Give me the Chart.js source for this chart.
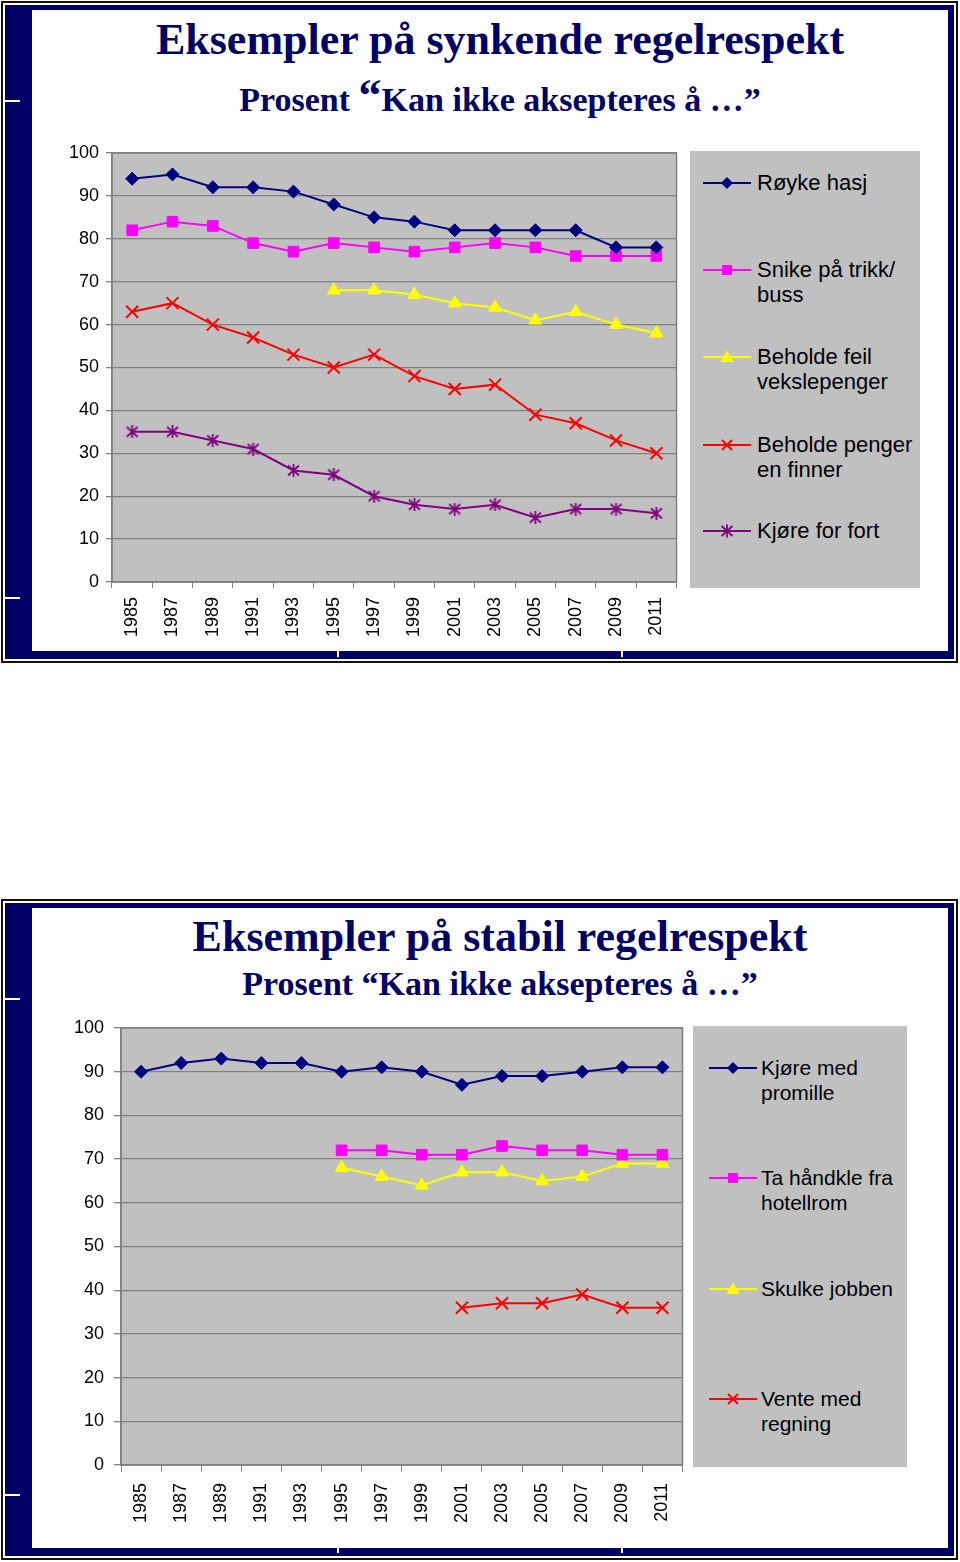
<!DOCTYPE html>
<html>
<head>
<meta charset="utf-8">
<script src="https://cdn.jsdelivr.net/npm/chart.js@4"></script>
<style>
  body { margin: 0; width: 960px; height: 1562px; background: #fff; position: relative; overflow: hidden; font-family: "Liberation Sans", Arial, sans-serif; }
  .frame { position: absolute; left: 1px; width: 957px; box-sizing: border-box; border: 2px solid #111; padding: 2px; background: #fff; }
  .navy { box-sizing: border-box; width: 100%; height: 100%; border-style: solid; border-color: #000066; border-width: 5px 6px 8px 27px; background: #fff; }
  .dash { position: absolute; left: 5px; width: 15px; height: 2px; background: #fff; }
  .notch { position: absolute; width: 2px; height: 6px; background: #fff; }
  .title { position: absolute; left: 100px; width: 800px; text-align: center; color: #000066; font-family: "Liberation Serif", "Times New Roman", serif; font-weight: bold; white-space: nowrap; }
  .t1 { font-size: 44px; line-height: 44px; }
  .t2 { font-size: 34px; line-height: 34px; }
  .chart { position: absolute; }
  .legend { position: absolute; background: #C0C0C0; }
  .entry { position: absolute; }
  .entry svg { position: absolute; left: 0; }
  .entry span { position: absolute; line-height: 25px; color: #000; white-space: nowrap; }
</style>
</head>
<body>

<div class="frame" style="top:1px;height:662px;"><div class="navy"></div></div>
<div class="dash" style="top:100px"></div>
<div class="dash" style="top:597px"></div>
<div class="notch" style="left:337px;top:651px"></div>
<div class="notch" style="left:621px;top:651px"></div>

<div class="title t1" style="top:18px">Eksempler på synkende regelrespekt</div>
<div class="title t2" style="top:79px">Prosent <span style="font-size:46px;line-height:34px">“</span>Kan ikke aksepteres å …”</div>

<canvas id="chart1" class="chart" width="647" height="515" style="left:40px;top:140px"></canvas>
<div id="legend1" class="legend" style="left:690px;top:151px;width:230px;height:437px"></div>

<div class="frame" style="top:899px;height:661px;"><div class="navy"></div></div>
<div style="position:absolute;left:32px;top:904px;width:10px;height:4px;background:#000066"></div>
<div class="dash" style="top:998px"></div>
<div class="dash" style="top:1494px"></div>
<div class="notch" style="left:337px;top:1547px"></div>
<div class="notch" style="left:621px;top:1547px"></div>

<div class="title t1" style="top:915px">Eksempler på stabil regelrespekt</div>
<div class="title t2" style="top:967px">Prosent “Kan ikke aksepteres å …”</div>

<canvas id="chart2" class="chart" width="648" height="535" style="left:45px;top:1014px"></canvas>
<div id="legend2" class="legend" style="left:693px;top:1026px;width:214px;height:441px"></div>

<script>
// --- data ---
const years = ['1985', '1987', '1989', '1991', '1993', '1995', '1997', '1999', '2001', '2003', '2005', '2007', '2009', '2011'];

// chart 1: synkende regelrespekt
const royke = [94, 95, 92, 92, 91, 88, 85, 84, 82, 82, 82, 82, 78, 78];
const snike = [82, 84, 83, 79, 77, 79, 78, 77, 78, 79, 78, 76, 76, 76];
const feil = [null, null, null, null, null, 68, 68, 67, 65, 64, 61, 63, 60, 58];
const penger = [63, 65, 60, 57, 53, 50, 53, 48, 45, 46, 39, 37, 33, 30];
const fort = [35, 35, 33, 31, 26, 25, 20, 18, 17, 18, 15, 17, 17, 16];
const labels1 = ['Røyke hasj', 'Snike på trikk/<br>buss', 'Beholde feil<br>vekslepenger', 'Beholde penger<br>en finner', 'Kjøre for fort'];

// chart 2: stabil regelrespekt
const promille = [90, 92, 93, 92, 92, 90, 91, 90, 87, 89, 89, 90, 91, 91];
const handkle = [null, null, null, null, null, 72, 72, 71, 71, 73, 72, 72, 71, 71];
const skulke = [null, null, null, null, null, 68, 66, 64, 67, 67, 65, 66, 69, 69];
const vente = [null, null, null, null, null, null, null, null, 36, 37, 37, 39, 36, 36];
const labels2 = ['Kjøre med<br>promille', 'Ta håndkle fra<br>hotellrom', 'Skulke jobben', 'Vente med<br>regning'];

const NAVY = '#000080', PINK = '#FF00FF', YELLOW = '#FFFF00', RED = '#FF0000', PURPLE = '#800080';

// asterisk marker (X with a vertical stroke)
function asterisk(color) {
    const c = document.createElement('canvas');
    c.width = 13; c.height = 13;
    const g = c.getContext('2d');
    g.strokeStyle = color;
    g.lineWidth = 1.8;
    g.beginPath();
    g.moveTo(6.5, 0); g.lineTo(6.5, 13);
    g.moveTo(1, 1.5); g.lineTo(12, 11.5);
    g.moveTo(12, 1.5); g.lineTo(1, 11.5);
    g.stroke();
    return c;
}

function series(label, data, color, style, radius) {
    const stroked = style === 'crossRot' || typeof style !== 'string';
    return {
        label: label,
        data: data,
        borderColor: color,
        borderWidth: 2,
        tension: 0,
        fill: false,
        pointStyle: style,
        pointRadius: radius,
        pointBackgroundColor: stroked ? 'transparent' : color,
        pointBorderColor: color,
        pointBorderWidth: stroked ? 2 : 1
    };
}

const plotBox = {
    id: 'plotBox',
    beforeDraw(chart) {
        const { ctx, chartArea: a } = chart;
        ctx.save();
        ctx.fillStyle = '#C0C0C0';
        ctx.fillRect(a.left, a.top, a.right - a.left, a.bottom - a.top);
        ctx.restore();
    },
    beforeDatasetsDraw(chart) {
        const { ctx, chartArea: a } = chart;
        ctx.save();
        ctx.strokeStyle = '#808080';
        ctx.lineWidth = 1.5;
        ctx.strokeRect(a.left, a.top, a.right - a.left, a.bottom - a.top);
        ctx.restore();
    }
};

function renderChart(id, datasets, box) {
    const ctx = document.getElementById(id).getContext('2d');
    return new Chart(ctx, {
        type: 'line',
        data: { labels: years, datasets: datasets },
        options: {
            responsive: false,
            animation: false,
            layout: { padding: { top: box.padTop, right: box.padRight, left: 0, bottom: 0 } },
            plugins: { legend: { display: false }, tooltip: { enabled: false } },
            scales: {
                x: {
                    offset: true,
                    grid: { offset: true, drawOnChartArea: false, color: '#808080', tickLength: box.xTick },
                    border: { color: '#808080', width: 1.5 },
                    ticks: {
                        color: '#000',
                        font: { family: 'Liberation Sans', size: 18 },
                        minRotation: 90,
                        maxRotation: 90,
                        padding: box.xPad,
                        autoSkip: false
                    },
                    afterFit: s => { s.height = box.xHeight; s.paddingLeft = 0; s.paddingRight = 0; }
                },
                y: {
                    min: 0,
                    max: 100,
                    grid: { color: '#808080', lineWidth: 1.3, tickLength: box.yTick },
                    border: { color: '#808080', width: 1.5 },
                    ticks: {
                        stepSize: 10,
                        color: '#000',
                        font: { family: 'Liberation Sans', size: 18 },
                        padding: box.yPad
                    },
                    afterFit: s => { s.width = box.yWidth; s.paddingTop = 0; s.paddingBottom = 0; }
                }
            }
        },
        plugins: [plotBox]
    });
}

// legend swatches, same marks as in the plot
function swatch(color, kind) {
    let mark = '';
    if (kind === 'diamond') mark = `<polygon points="24,2 30,8 24,14 18,8" fill="${color}"/>`;
    if (kind === 'square') mark = `<rect x="19" y="3" width="10" height="10" fill="${color}"/>`;
    if (kind === 'triangle') mark = `<polygon points="24,1.5 30.5,13 17.5,13" fill="${color}"/>`;
    if (kind === 'cross') mark = `<path d="M19,3 L29,13 M29,3 L19,13" stroke="${color}" stroke-width="2"/>`;
    if (kind === 'star') mark = `<path d="M24,1.5 L24,14.5 M18.5,3 L29.5,13 M29.5,3 L18.5,13" stroke="${color}" stroke-width="1.8"/>`;
    return `<svg width="48" height="16" viewBox="0 0 48 16" style="top:-8px"><line x1="0" y1="8" x2="48" y2="8" stroke="${color}" stroke-width="2"/>${mark}</svg>`;
}

function buildLegend(id, labels, colors, kinds, tops, lineX, textX, fontSize) {
    const el = document.getElementById(id);
    labels.forEach((txt, i) => {
        const row = document.createElement('div');
        row.className = 'entry';
        row.style.left = lineX + 'px';
        row.style.top = tops[i] + 'px';
        row.innerHTML = swatch(colors[i], kinds[i]) +
            `<span style="left:${textX - lineX}px;top:-13px;font-size:${fontSize}px">${txt}</span>`;
        el.appendChild(row);
    });
}

renderChart('chart1', [
    series(labels1[0], royke, NAVY, 'rectRot', 6.5),
    series(labels1[1], snike, PINK, 'rect', 7.5),
    series(labels1[2], feil, YELLOW, 'triangle', 7.5),
    series(labels1[3], penger, RED, 'crossRot', 8.5),
    series(labels1[4], fort, PURPLE, asterisk(PURPLE), 6)
], { padTop: 13, padRight: 4, xHeight: 73, yWidth: 72, xTick: 6, xPad: 9, yTick: 6, yPad: 7 });

renderChart('chart2', [
    series(labels2[0], promille, NAVY, 'rectRot', 6.5),
    series(labels2[1], handkle, PINK, 'rect', 7.5),
    series(labels2[2], skulke, YELLOW, 'triangle', 7.5),
    series(labels2[3], vente, RED, 'crossRot', 8.5)
], { padTop: 14, padRight: 4, xHeight: 84, yWidth: 76, xTick: 7, xPad: 11, yTick: 7, yPad: 10 });

buildLegend('legend1', labels1, [NAVY, PINK, YELLOW, RED, PURPLE],
    ['diamond', 'square', 'triangle', 'cross', 'star'], [32, 119, 206, 294, 380], 13, 67, 22);
buildLegend('legend2', labels2, [NAVY, PINK, YELLOW, RED],
    ['diamond', 'square', 'triangle', 'cross'], [42, 152, 263, 373], 16, 68, 21);
</script>
</body>
</html>
